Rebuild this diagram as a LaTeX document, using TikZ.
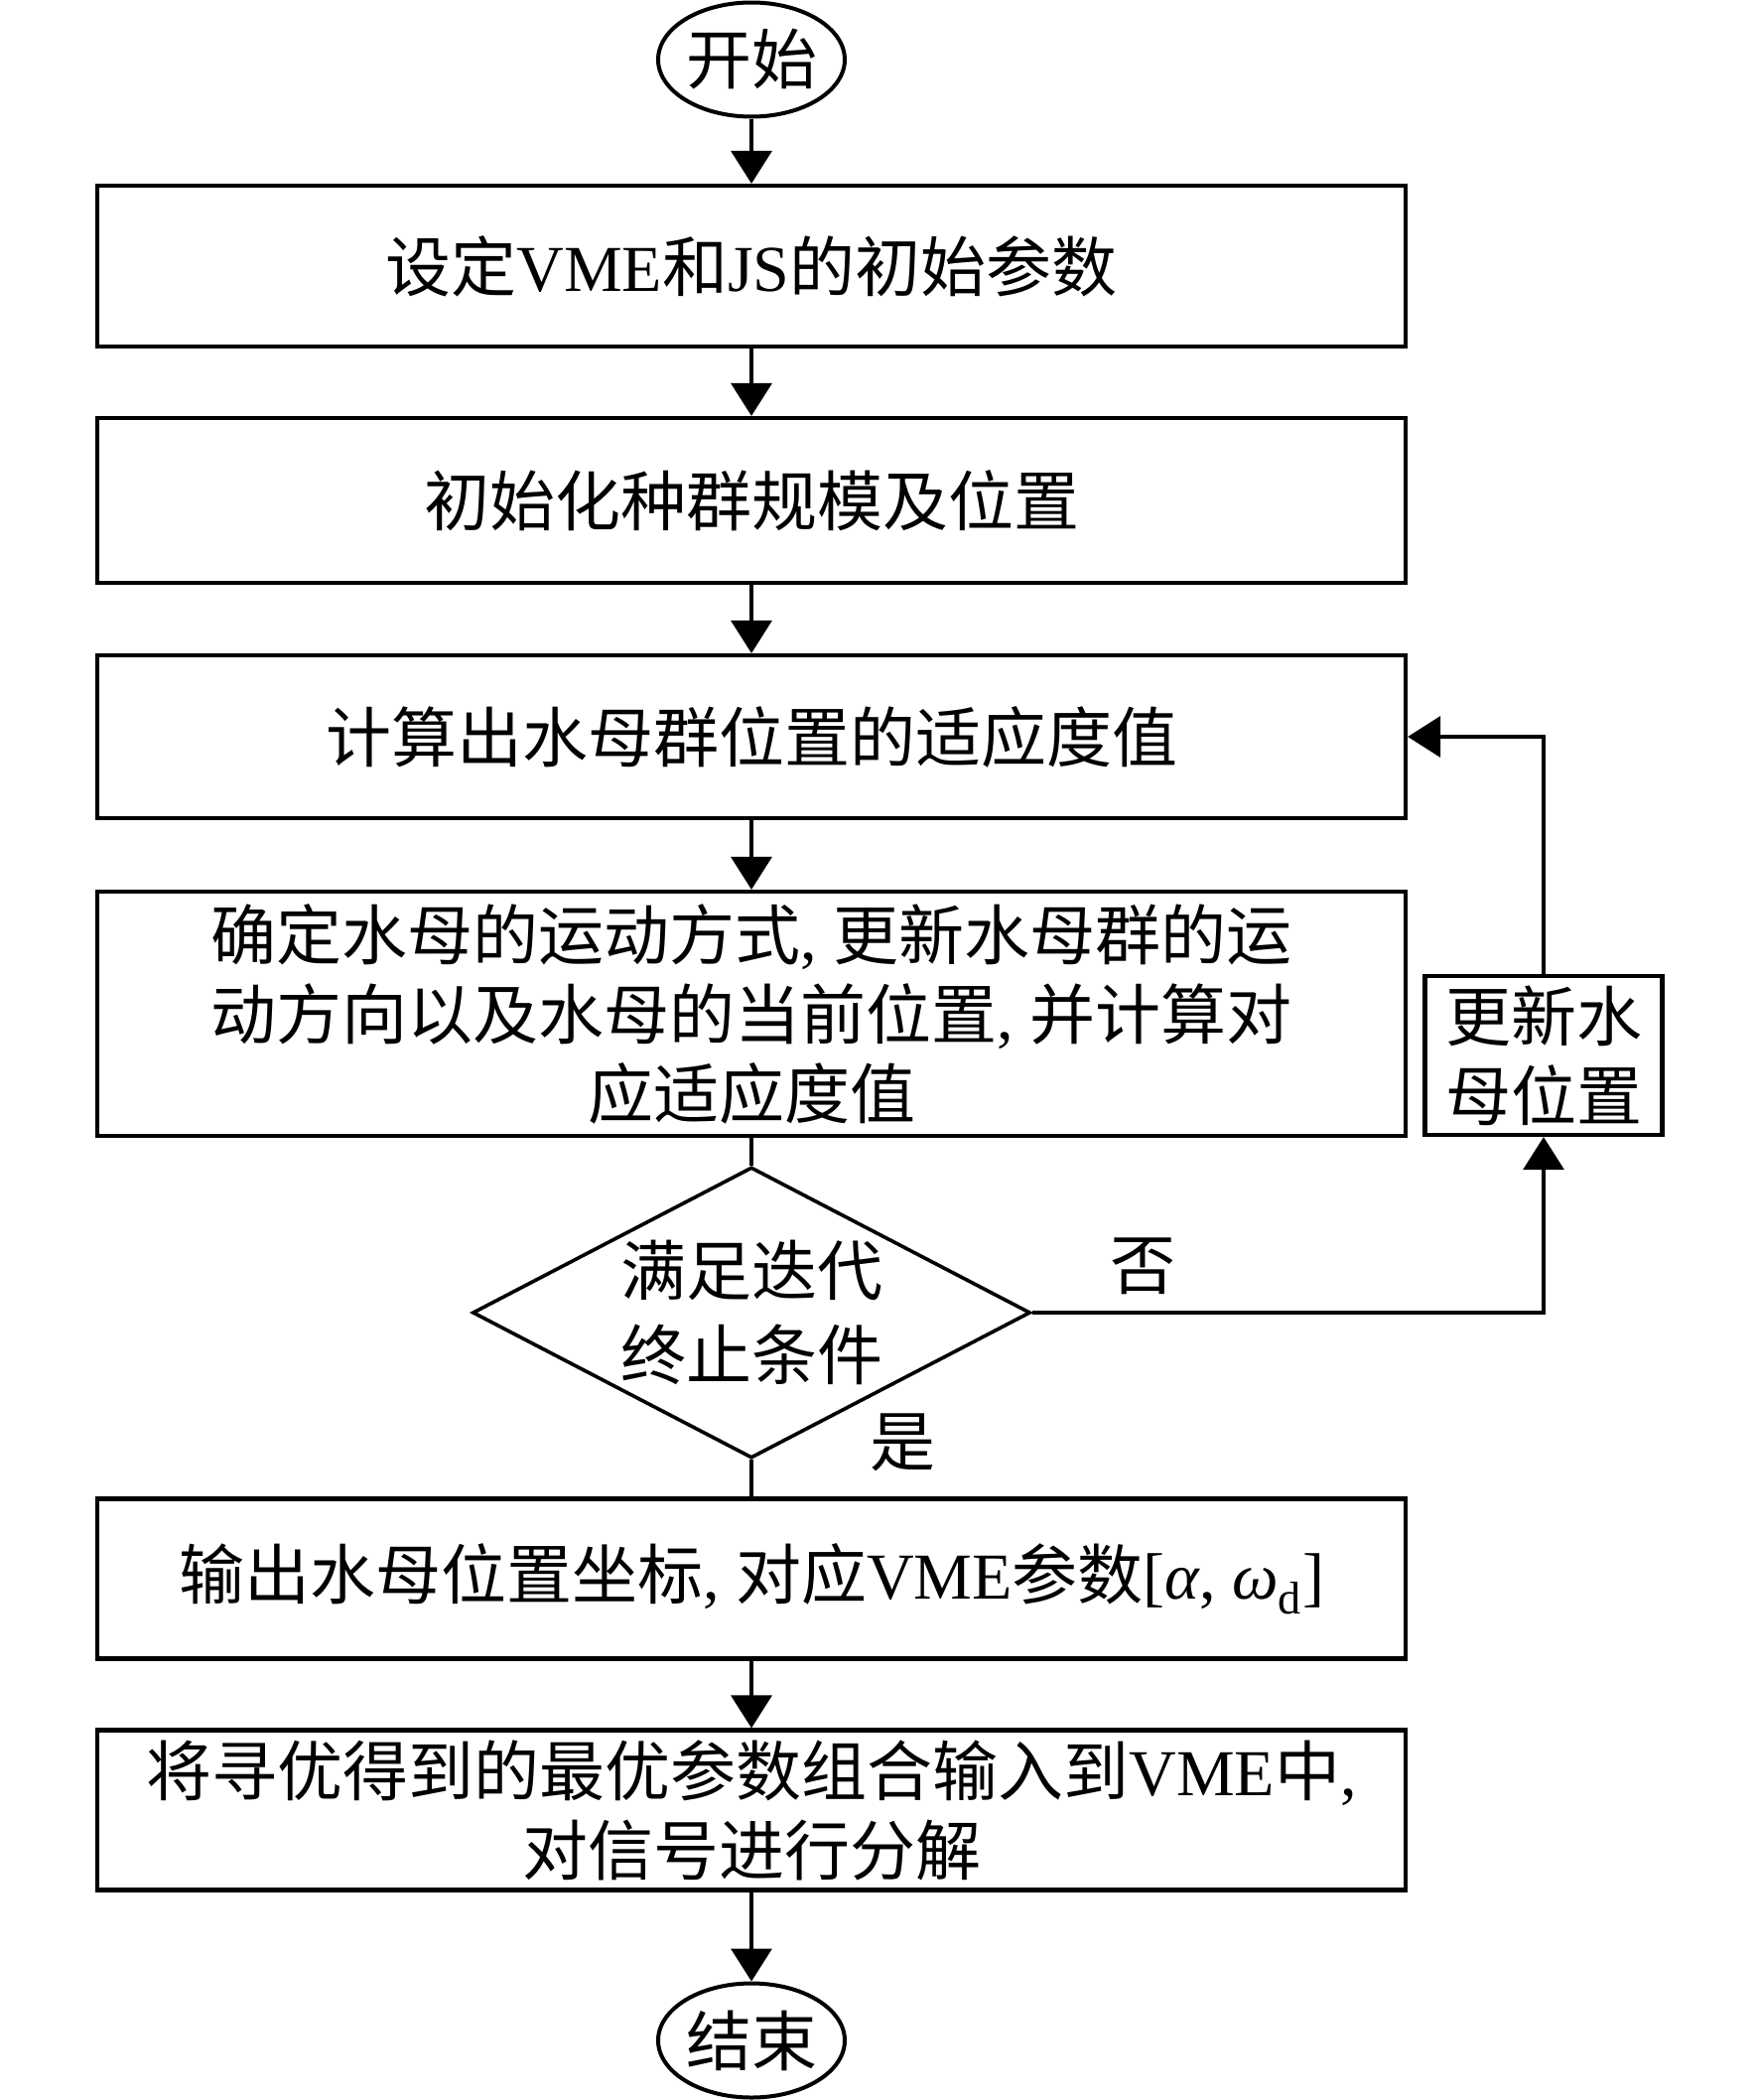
\documentclass[tikz,border=0pt]{standalone}
\usepackage{fontspec}
\setmainfont{Liberation Serif}
\newfontfamily\cjk{Noto Sans CJK SC}
\usetikzlibrary{shapes.geometric,arrows.meta}
\newcommand\zh[1]{{\cjk #1}}
\begin{document}
\begin{tikzpicture}[x=0.5pt,y=-0.5pt,
  every node/.style={font=\fontsize{33}{40}\selectfont},
  box/.style={draw, line width=2.1pt, minimum width=659pt, minimum height=81pt, inner sep=0pt, align=center},
  term/.style={draw, ellipse, line width=2pt, minimum width=94pt, minimum height=57.5pt, inner sep=0pt},
  dec/.style={draw, diamond, line width=1.8pt, minimum width=281pt, minimum height=146.5pt, inner sep=0pt, aspect=1.918, align=center, font=\fontsize{33}{42.5}\selectfont},
  arr/.style={line width=1.8pt, -{Triangle[length=16.5pt,width=20.5pt]}},
  ln/.style={line width=1.8pt}]
\useasboundingbox (0,0) rectangle (1772,2115);

\node[term] (start) at (757,60) {\zh{开始}};
\node[box] (b1) at (757,268) {\zh{设定}VME\zh{和}JS\zh{的初始参数}};
\node[box, minimum height=83pt] (b2) at (757,504) {\zh{初始化种群规模及位置}};
\node[box, minimum height=82pt] (b3) at (757,742) {\zh{计算出水母群位置的适应度值}};
\node[box, minimum height=123pt] (b4) at (757,1021) {\zh{确定水母的运动方式}, \zh{更新水母群的运}\\\zh{动方向以及水母的当前位置}, \zh{并计算对}\\\zh{应适应度值}};
\node[dec] (dia) at (757,1322) {\zh{满足迭代}\\\zh{终止条件}};
\node[box, minimum height=80.5pt] (b5) at (757,1590) {\zh{输出水母位置坐标}, \zh{对应}VME\zh{参数}[\textit{α}, \textit{ω}\textsubscript{d}]};
\node[box, minimum height=80.5pt] (b6) at (757,1823) {\zh{将寻优得到的最优参数组合输入到}VME\zh{中},\\\zh{对信号进行分解}};
\node[term] (stop) at (757,2055) {\zh{结束}};
\node[draw, line width=2.1pt, minimum width=119.5pt, minimum height=80pt, inner sep=0pt, align=center] (side) at (1555,1063) {\zh{更新水}\\\zh{母位置}};

\draw[arr] (start) -- (b1);
\draw[arr] (b1) -- (b2);
\draw[arr] (b2) -- (b3);
\draw[arr] (b3) -- (b4);
\draw[ln] (b4) -- (dia);
\draw[ln] (dia) -- (b5);
\draw[arr] (b5) -- (b6);
\draw[arr] (b6) -- (stop);
\draw[arr] (dia.east) -| (side.south);
\draw[arr] (side.north) |- (b3.east);

\node (no) at (1151,1275) {\zh{否}};
\node (yes) at (909,1453) {\zh{是}};
\end{tikzpicture}
\end{document}
